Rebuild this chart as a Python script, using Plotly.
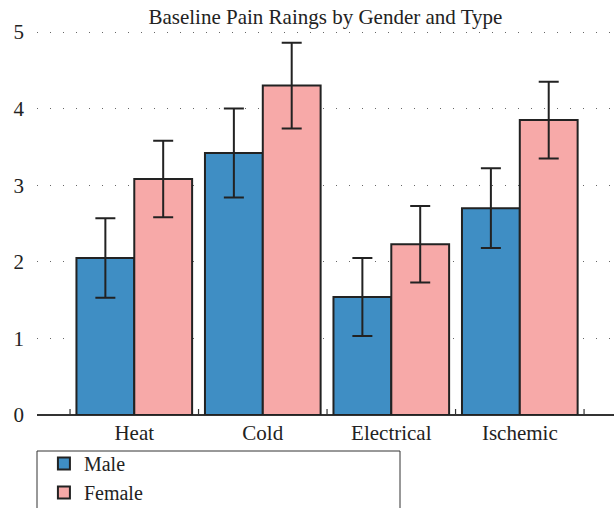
import plotly.graph_objects as go

# Baseline pain ratings (mean and error) by stimulus type
categories = ["Heat", "Cold", "Electrical", "Ischemic"]
male_mean = [2.05, 3.42, 1.54, 2.70]
male_err = [0.52, 0.58, 0.51, 0.52]
female_mean = [3.08, 4.30, 2.23, 3.85]
female_err = [0.50, 0.56, 0.50, 0.50]
y_ticks = [0, 1, 2, 3, 4, 5]

FONT = "Liberation Serif, Times New Roman, serif"
EDGE = "#222222"
x_pos = list(range(len(categories)))

fig = go.Figure()
fig.add_trace(go.Bar(
    name="Male", x=x_pos, y=male_mean,
    marker=dict(color="#3F8EC4", line=dict(color=EDGE, width=2)),
    error_y=dict(type="data", array=male_err, color=EDGE, thickness=2, width=10),
))
fig.add_trace(go.Bar(
    name="Female", x=x_pos, y=female_mean,
    marker=dict(color="#F7A9A8", line=dict(color=EDGE, width=2)),
    error_y=dict(type="data", array=female_err, color=EDGE, thickness=2, width=10),
))

# category separators crossing the baseline
for b in [i - 0.5 for i in range(len(categories) + 1)]:
    fig.add_shape(type="line", xref="x", yref="y", x0=b, x1=b,
                  ysizemode="pixel", yanchor=0, y0=-7, y1=6,
                  line=dict(color="#333333", width=1.2))

PLOT_H = 415 - 28
# legend frame
fig.add_shape(type="rect", xref="paper", yref="paper",
              x0=0, x1=(400 - 37) / 577, y0=(415 - 451) / PLOT_H, y1=-0.3,
              line=dict(color="#333333", width=1), fillcolor="rgba(0,0,0,0)",
              layer="above")

fig.update_layout(
    width=614, height=508,
    margin=dict(l=37, r=0, t=28, b=93, autoexpand=False),
    plot_bgcolor="white", paper_bgcolor="white",
    font=dict(family=FONT, size=21, color="#222222"),
    barmode="group", bargap=0.1, bargroupgap=0,
    title=dict(text="Baseline Pain Raings by Gender and Type",
               x=0.53, xanchor="center", y=1 - 17 / 508, yanchor="middle",
               font=dict(family=FONT, size=21, color="#222222")),
    xaxis=dict(
        range=[-0.757, 3.733], tickvals=x_pos, ticktext=categories,
        ticks="", showgrid=False, zeroline=False,
        showline=False, tickfont=dict(size=21), fixedrange=True,
        ticklabelstandoff=3,
    ),
    yaxis=dict(
        range=[0, 5 * PLOT_H / (415 - 32)], tickvals=y_ticks, ticks="",
        showgrid=True, gridcolor="#666666", gridwidth=1,
        griddash="1px,12px",
        zeroline=True, zerolinecolor="#333333", zerolinewidth=1.5,
        showline=False, tickfont=dict(size=21), ticklabelstandoff=12,
    ),
    showlegend=True,
    legend=dict(
        x=0.012, xanchor="left", y=(415 - 444) / PLOT_H, yanchor="top",
        borderwidth=0, bgcolor="rgba(0,0,0,0)",
        font=dict(family=FONT, size=20),
        tracegroupgap=0, itemsizing="constant",
    ),
)

fig.write_html("out.html")
